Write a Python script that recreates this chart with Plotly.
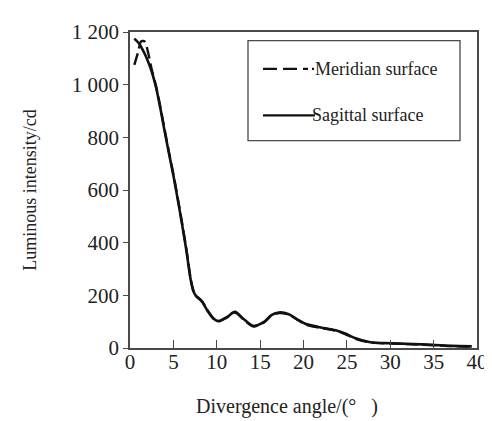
import plotly.graph_objects as go

# Sagittal surface (solid)
sag_x = [0.5, 1.0, 1.5, 2.0, 2.5, 3.0, 3.5, 4.0, 4.5, 5.0, 5.5, 6.0, 6.5, 7.0, 7.3, 7.6, 8.3, 9.0, 9.6, 10.2, 11.2, 12.1, 13.1, 14.2, 15.4, 16.3, 17.2, 18.3, 19.3, 20.2, 21.7, 23.7, 24.8, 26.0, 27.7, 30.0, 32.5, 34.8, 37.1, 39.4]
sag_y = [1175, 1158, 1130, 1095, 1050, 990, 910, 822, 738, 655, 565, 470, 370, 258, 216, 198, 176, 138, 112, 102, 118, 137, 110, 84, 98, 125, 135, 128, 108, 92, 80, 67, 55, 37, 22, 18, 15, 12, 8, 6]

# Meridian surface (dashed)
mer_x = [0.5, 0.9, 1.3, 1.7, 2.1, 2.5, 3.0, 3.5, 4.0, 4.5, 5.0, 5.5, 6.0, 6.5, 7.0, 7.3, 7.6, 8.3, 9.0, 9.6, 10.2, 11.2, 12.1, 13.1, 14.2, 15.4, 16.3, 17.2, 18.3, 19.3, 20.2, 21.7, 23.7, 24.8, 26.0, 27.7, 30.0, 32.5, 34.8, 37.1, 39.4]
mer_y = [1075, 1120, 1165, 1163, 1120, 1058, 995, 915, 828, 742, 660, 570, 475, 375, 262, 220, 200, 178, 140, 113, 101, 116, 135, 108, 82, 96, 123, 133, 127, 107, 90, 78, 66, 53, 35, 21, 17, 14, 11, 7, 5]

x_ticks = [0, 5, 10, 15, 20, 25, 30, 35, 40]
y_ticks = [0, 200, 400, 600, 800, 1000, 1200]
y_tick_text = ["0", "200", "400", "600", "800", "1 000", "1 200"]

FONT = "Liberation Serif, Times New Roman, serif"
AX = "#4a4a4a"

fig = go.Figure()
fig.add_trace(go.Scatter(x=sag_x, y=sag_y, mode="lines", name="Sagittal surface",
                         line=dict(color="#111", width=2.6, shape="spline", smoothing=0.8)))
fig.add_trace(go.Scatter(x=mer_x, y=mer_y, mode="lines", name="Meridian surface",
                         line=dict(color="#111", width=2.4, dash="12px,5px", shape="spline", smoothing=0.8)))

fig.update_layout(
    width=492, height=421,
    margin=dict(l=122, r=23, t=14, b=81),
    paper_bgcolor="white", plot_bgcolor="white",
    showlegend=False,
    font=dict(family=FONT, size=21, color="#222"),
    xaxis=dict(range=[0, 40], tickvals=x_ticks, ticks="inside", ticklen=8, tickwidth=1.3,
               tickcolor=AX, showline=True, linecolor=AX, linewidth=1.5, mirror=True,
               showgrid=False, zeroline=False, tickfont=dict(size=21), ticklabelstandoff=-6),
    yaxis=dict(range=[0, 1200], tickvals=y_ticks, ticktext=y_tick_text, ticks="outside", ticklen=5,
               tickwidth=1.3, tickcolor=AX, showline=True, linecolor=AX, linewidth=1.5,
               mirror=True, showgrid=False, zeroline=False, tickfont=dict(size=21),
               title=dict(text="Luminous intensity/cd", font=dict(size=18), standoff=30)),
)

# Pixel -> paper helpers for annotations / legend
def px2fx(px):
    return (px - 122) / (492 - 122 - 23)

def py2fy(py):
    return (421 - 81 - py) / (421 - 81 - 14)

# x axis title
fig.add_annotation(xref="paper", yref="paper", x=px2fx(279), y=py2fy(400),
                   text="Divergence angle/(°\u00a0\u00a0\u00a0)", showarrow=False,
                   xanchor="center", yanchor="middle", font=dict(size=20, family=FONT, color="#222"))

# Manual legend box
fig.add_shape(type="rect", xref="paper", yref="paper",
              x0=px2fx(240), x1=px2fx(452), y0=py2fy(126), y1=py2fy(23),
              line=dict(color=AX, width=1.3), fillcolor="white")
fig.add_shape(type="line", xref="paper", yref="paper",
              x0=px2fx(255), x1=px2fx(300), y0=py2fy(52), y1=py2fy(52),
              line=dict(color="#111", width=2.4, dash="14px,6px"))
fig.add_shape(type="line", xref="paper", yref="paper",
              x0=px2fx(304), x1=px2fx(306), y0=py2fy(52), y1=py2fy(52),
              line=dict(color="#111", width=2.4))
fig.add_shape(type="line", xref="paper", yref="paper",
              x0=px2fx(255), x1=px2fx(307), y0=py2fy(100), y1=py2fy(100),
              line=dict(color="#111", width=2.4))
fig.add_annotation(xref="paper", yref="paper", x=px2fx(305), y=py2fy(52), text="Meridian surface",
                   showarrow=False, xanchor="left", yanchor="middle", font=dict(size=18, family=FONT, color="#222"))
fig.add_annotation(xref="paper", yref="paper", x=px2fx(302), y=py2fy(100), text="Sagittal surface",
                   showarrow=False, xanchor="left", yanchor="middle", font=dict(size=18, family=FONT, color="#222"))

fig.write_html("out.html")
